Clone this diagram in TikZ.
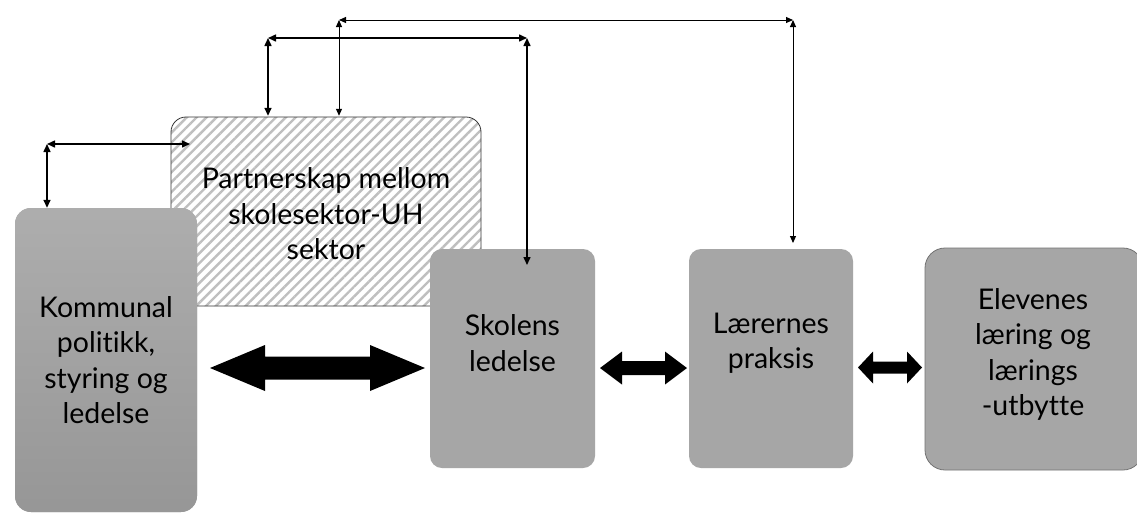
\documentclass[tikz,border=0pt]{standalone}
\usepackage{fontspec}
\setmainfont{Lato}[Ligatures={NoCommon}]
\usetikzlibrary{arrows.meta,patterns.meta,calc}
\newcommand{\blockarr}[6]{%
  \fill[black] (#1,#3) -- (#1+#4,#3-#5) -- (#1+#4,#3-#6) -- (#2-#4,#3-#6) -- (#2-#4,#3-#5)
    -- (#2,#3) -- (#2-#4,#3+#5) -- (#2-#4,#3+#6) -- (#1+#4,#3+#6) -- (#1+#4,#3+#5) -- cycle;}
\begin{document}
\begin{tikzpicture}[x=1pt,y=-1pt,
  box/.style={rectangle, fill=black!35, draw=none, inner sep=0pt},
  txt/.style={align=center, font=\fontsize{28.5}{35.5}\selectfont, text=black},
  conn/.style={{Triangle[length=8pt,width=7pt]}-{Triangle[length=8pt,width=7pt]}, line width=1.5pt},
  connthin/.style={{Triangle[length=7pt,width=6pt]}-{Triangle[length=7pt,width=6pt]}, line width=1pt},
]
\useasboundingbox (0,0) rectangle (1137,512);
\fill[white] (0,0) rectangle (1137,512);

% hatched partnership box
\node[rectangle, rounded corners=15pt, draw=black!80, line width=0.8pt,
  pattern={Lines[angle=45,distance=7pt,line width=2.4pt]}, pattern color=black!25,
  minimum width=310pt, minimum height=189pt, inner sep=0pt] (hatch) at (326,211.5) {};
\node[txt] (hatchT) at (326,214) {Partnerskap mellom\\skolesektor-UH\\sektor};

% main boxes
\node[box, rounded corners=16pt, top color=black!32, bottom color=black!41,
  minimum width=182pt, minimum height=304pt] (kom) at (106,360) {};
\node[txt] (komT) at (106,360) {Kommunal\\politikk,\\styring og\\ledelse};

\node[box, rounded corners=12pt, minimum width=165pt, minimum height=219pt] (skol) at (512.5,358.5) {};
\node[txt] (skolT) at (512.5,343) {Skolens\\ledelse};

\node[box, rounded corners=12pt, minimum width=164pt, minimum height=219pt] (laer) at (771,358.5) {};
\node[txt] (laerT) at (771,343) {Lærernes\\praksis};

\node[box, rounded corners=20pt, draw=black!55, line width=0.8pt, minimum width=218pt, minimum height=222pt] (elev) at (1034,359) {};
\node[txt] (elevT) at (1033,354.5) {Elevenes\\læring og\\lærings\\-utbytte};

% corner coordinates
\coordinate (a1) at (339,20);
\coordinate (a2) at (793,20);
\coordinate (b1) at (268,38);
\coordinate (b2) at (527,38);
\coordinate (c1) at (47,144);
\coordinate (c2) at (190,144);
\coordinate (a3) at (793,243);
\coordinate (b3) at (527,265);

% connectors
\draw[connthin] (hatch.north -| a1) -- (a1);
\draw[connthin] (a1) -- (a2);
\draw[connthin] (a2) -- (a3);
\draw[conn] (hatch.north -| b1) -- (b1);
\draw[conn] (b1) -- (b2);
\draw[conn] (b2) -- (b3);
\draw[conn] (kom.north -| c1) -- (c1);
\draw[conn] (c1) -- (c2);

% block arrows
\blockarr{210}{425}{368}{55}{23}{11.5}
\blockarr{600}{687}{368}{22}{16.5}{7}
\blockarr{858}{922}{367.5}{15}{16}{6}
\end{tikzpicture}
\end{document}
